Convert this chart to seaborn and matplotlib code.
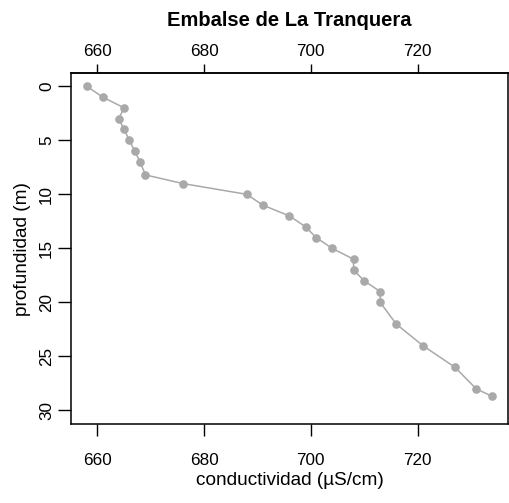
import matplotlib
matplotlib.use("Agg")
import matplotlib.pyplot as plt
import seaborn as sns
import pandas as pd

# Data
conductividad = [658, 661, 665, 664, 665, 666, 667, 668, 669, 676, 688, 691,
                 696, 699, 701, 704, 708, 708, 710, 713, 713, 716, 721, 727, 731, 734]
profundidad = [0, 1, 2, 3, 4, 5, 6, 7, 8.2, 9, 10, 11,
               12, 13, 14, 15, 16, 17, 18, 19, 20, 22, 24, 26, 28, 28.7]
x_ticks = [660, 680, 700, 720]
y_ticks = [0, 5, 10, 15, 20, 25, 30]
title = "Embalse de La Tranquera"
x_label = "conductividad (µS/cm)"
y_label = "profundidad (m)"

sns.set_style("white")
plt.rcParams["font.family"] = ["Liberation Sans", "DejaVu Sans"]
for k in ["text.color", "axes.labelcolor", "xtick.color", "ytick.color", "axes.edgecolor"]:
    plt.rcParams[k] = "black"

df = pd.DataFrame({"cond": conductividad, "prof": profundidad})

W, H = 510, 503
fig = plt.figure(figsize=(W / 100, H / 100), dpi=100)
left, right, top, bottom = 70.7, 508.3, 73.3, 424.0
ax = fig.add_axes([left / W, 1 - bottom / H, (right - left) / W, (bottom - top) / H])

grey = "#a9a9a9"
sns.lineplot(data=df, x="cond", y="prof", sort=False, estimator=None,
             color=grey, linewidth=1.1, marker="o", markersize=6.2,
             markeredgewidth=0, markerfacecolor=grey, ax=ax)

ax.set_xlim(655.0, 737.0)
ax.set_ylim(31.25, -1.2)

ax.set_xticks(x_ticks)
ax.set_yticks(y_ticks)
ax.set_xticklabels([str(v) for v in x_ticks])
ax.set_yticklabels([str(v) for v in y_ticks], rotation=90, va="center")

ax.tick_params(axis="x", direction="out", length=8.6, width=1.0,
               labelsize=12.3, pad=12.5, bottom=True, labelbottom=True,
               top=False, labeltop=False)
ax.tick_params(axis="y", direction="out", length=9.5, width=1.0,
               labelsize=12.3, pad=2.5, left=True)

sec = ax.secondary_xaxis("top")
sec.set_xticks(x_ticks)
sec.set_xticklabels([str(v) for v in x_ticks])
sec.tick_params(axis="x", direction="out", length=6.5, width=1.0,
                labelsize=12.3, pad=4)
sec.spines["top"].set_linewidth(1.1)

for sp in ax.spines.values():
    sp.set_visible(True)
    sp.set_color("black")
    sp.set_linewidth(1.1)

ax.set_xlabel(x_label, fontsize=13.7, labelpad=3)
ax.set_ylabel(y_label, fontsize=13.7, labelpad=6)
fig.text((left + right) / 2 / W, 1 - 20 / H, title, ha="center", va="center",
         fontsize=14.5, fontweight="bold")

fig.savefig("out.png", dpi=100)
